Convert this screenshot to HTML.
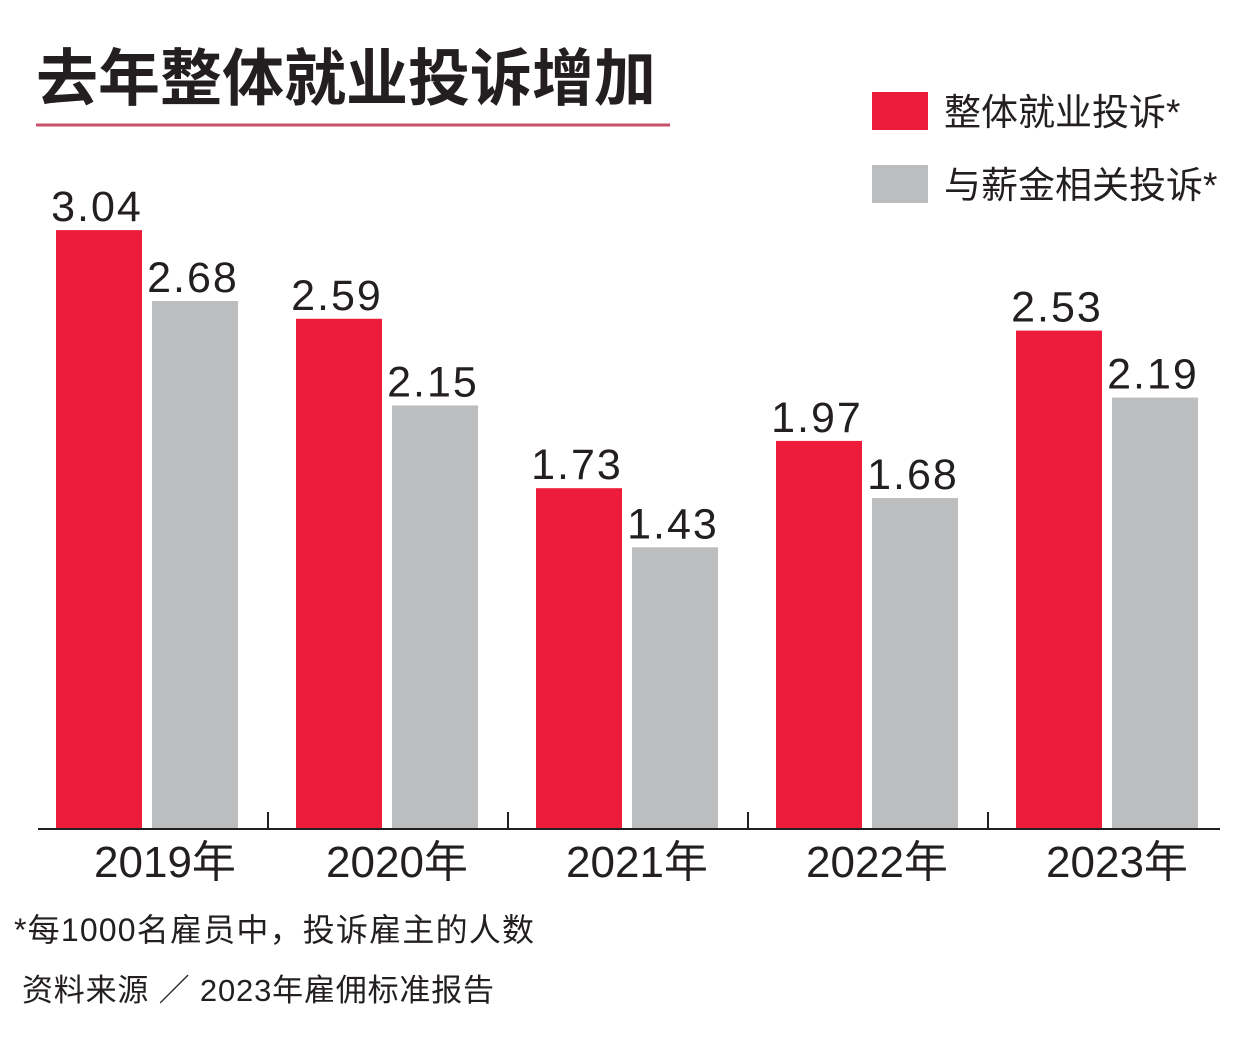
<!DOCTYPE html>
<html><head><meta charset="utf-8">
<style>
body{margin:0;background:#fff;width:1251px;height:1058px;overflow:hidden;font-family:"Liberation Sans","Noto Sans CJK SC",sans-serif;}
svg{display:block}
</style></head>
<body>
<svg id="chart" width="1251" height="1058">
<text x="36" y="100" font-size="62" font-weight="bold" fill="#231f20" font-family="Liberation Sans, Noto Sans CJK SC, sans-serif">去年整体就业投诉增加</text>
<line x1="36" y1="125" x2="670" y2="125" stroke="#c9506a" stroke-width="3"/>
<rect x="872" y="92" width="56" height="38" fill="#ed1c3b"/>
<text x="944" y="125" font-size="37" fill="#231f20">整体就业投诉*</text>
<rect x="872" y="165" width="56" height="38" fill="#bcbdbf"/>
<text x="944" y="198" font-size="37" fill="#231f20">与薪金相关投诉*</text>
<g id="bars"></g>
<line x1="38" y1="829" x2="1220" y2="829" stroke="#231f20" stroke-width="2"/>
<g id="ticks"></g>
<text x="14" y="941" font-size="32" fill="#231f20" textLength="520">*每1000名雇员中，投诉雇主的人数</text>
<text x="22" y="1001" font-size="31" fill="#231f20" textLength="472">资料来源 ／ 2023年雇佣标准报告</text>
</svg>
<script>
const categories=["2019年","2020年","2021年","2022年","2023年"];
const overall=[3.04,2.59,1.73,1.97,2.53];
const wage=[2.68,2.15,1.43,1.68,2.19];
const NS="http://www.w3.org/2000/svg";
const base=829, pxPerUnit=197, groupW=240, x0=56, barW=86, gap=10;
const y=v=>base-v*pxPerUnit;
const xr=i=>x0+i*groupW;
const g=document.getElementById('bars');
const tg=document.getElementById('ticks');
function mk(t,a,p){const e=document.createElementNS(NS,t);for(const k in a)e.setAttribute(k,a[k]);p.appendChild(e);return e;}
categories.forEach((c,i)=>{
  [[overall[i],"#ed1c3b",0,"overall"],[wage[i],"#bcbdbf",barW+gap,"wage"]].forEach(([v,col,off,nm])=>{
    const r=mk('rect',{x:xr(i)+off,y:y(v),width:barW,height:base-y(v),fill:col},g);
    
    
    const t=mk('text',{x:xr(i)+off+barW/2-2,y:y(v)-9,'font-size':43,'letter-spacing':2,'text-anchor':'middle',fill:'#231f20'},g);
    t.textContent=v.toFixed(2);
    
    
  });
  const l=mk('text',{x:xr(i)+(i==0?109:101),y:877,'font-size':44,'text-anchor':'middle',fill:'#231f20'},tg);
  l.textContent=c;
  
  
  if(i>0){
    const tk=mk('line',{x1:xr(i)-28,y1:812,x2:xr(i)-28,y2:829,stroke:'#231f20','stroke-width':2},tg);
    
    
  }
});
</script>
</body></html>
